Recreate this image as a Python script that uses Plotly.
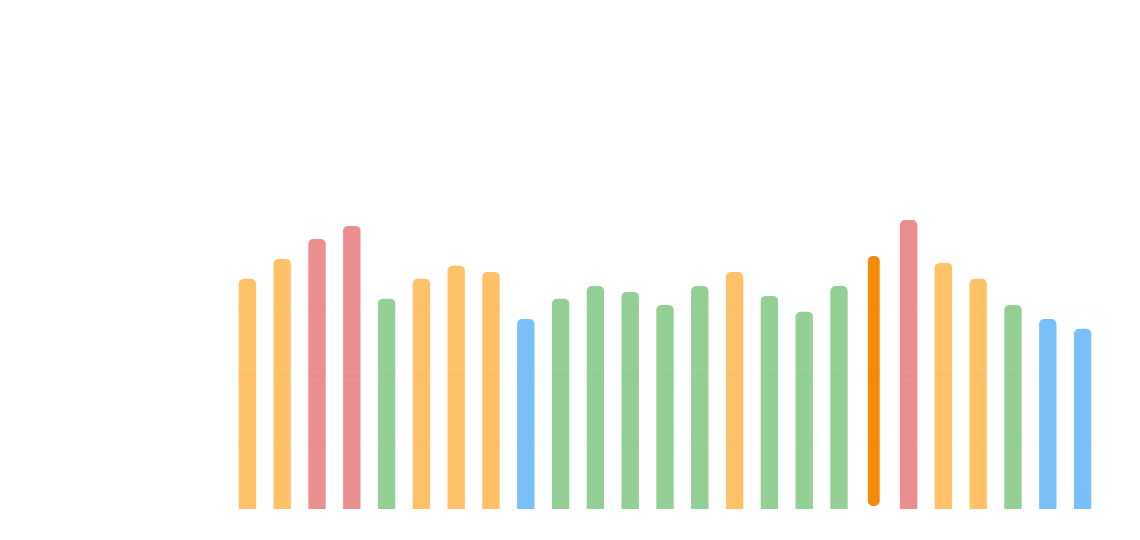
import plotly.graph_objects as go

days = list(range(1, 26))
values = [86.5, 94, 101.5, 106.4, 79, 86.5, 91.4, 89.1, 71.4, 79, 83.8, 81.6, 76.7,
          83.8, 89.1, 80.1, 74.1, 83.8, 94, 108.6, 92.5, 86.5, 76.7, 71.4, 67.7]
highlight = 19  # the selected day


def colour(v):
    if v > 100:
        return "rgba(229,115,115,0.8)"
    if v > 85:
        return "rgba(255,167,38,0.7)"
    if v > 73:
        return "rgba(102,187,106,0.7)"
    return "rgba(66,165,245,0.7)"


norm_x = [d for d in days if d != highlight]
norm_y = [v for d, v in zip(days, values) if d != highlight]

fig = go.Figure()
fig.add_bar(x=norm_x, y=norm_y, width=0.5, marker_color=[colour(v) for v in norm_y],
            marker_line_width=0)
fig.add_bar(x=[highlight], y=[values[highlight - 1]], base=[1.1], width=0.34,
            marker_color="#F58A07", marker_line_width=0)

for g in [25, 50, 75]:
    fig.add_hline(y=g, line_color="rgba(0,0,0,0.025)", line_width=1, layer="above")

fig.update_layout(
    width=1140, height=540, showlegend=False, barmode="overlay", barcornerradius=5,
    plot_bgcolor="white", paper_bgcolor="white",
    margin=dict(l=222, r=48, t=0, b=39),
    xaxis=dict(range=[0.5, 25.5], visible=False),
    yaxis=dict(range=[0, 188.3], visible=False),
)
fig.write_html("out.html")
